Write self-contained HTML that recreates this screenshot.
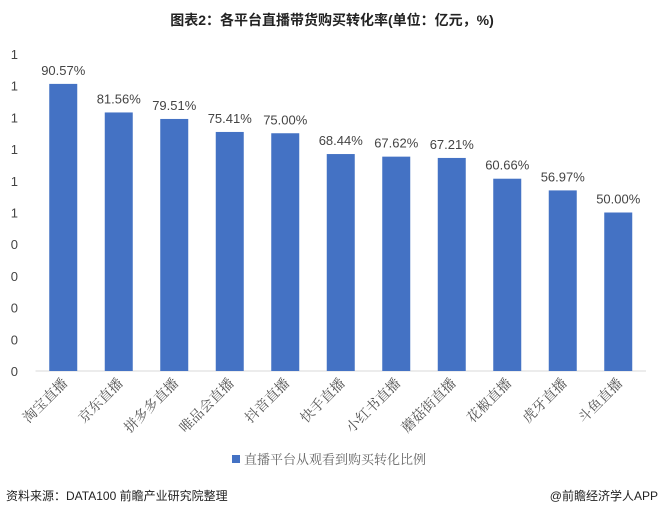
<!DOCTYPE html>
<html><head><meta charset="utf-8"><style>
body{margin:0;background:#fff;width:664px;height:516px;overflow:hidden;font-family:"Liberation Sans","Noto Sans CJK SC",sans-serif}
</style></head><body>
<svg width="664" height="516">
<text x="332" y="25" text-anchor="middle" font-size="14" font-weight="bold" fill="#222" font-family="Liberation Sans, Noto Sans CJK SC, sans-serif">图表2：各平台直播带货购买转化率(单位：亿元，%)</text>
<g id="plot"></g>
<rect x="232" y="455" width="8" height="8" fill="#4472c4"/>
<text x="244" y="464" font-size="13" fill="#666" font-family="Liberation Serif, Noto Serif CJK SC, serif">直播平台从观看到购买转化比例</text>
<text x="6" y="500" font-size="12" fill="#222">资料来源：DATA100 前瞻产业研究院整理</text>
<text x="658" y="500" text-anchor="end" font-size="12" fill="#222">@前瞻经济学人APP</text>
</svg>
<script>
const categories=["淘宝直播","京东直播","拼多多直播","唯品会直播","抖音直播","快手直播","小红书直播","蘑菇街直播","花椒直播","虎牙直播","斗鱼直播"];
const values=[90.57,81.56,79.51,75.41,75.00,68.44,67.62,67.21,60.66,56.97,50.00];
const valueLabels=["90.57%","81.56%","79.51%","75.41%","75.00%","68.44%","67.62%","67.21%","60.66%","56.97%","50.00%"];
const ticks=[0,10,20,30,40,50,60,70,80,90,100];
const tickLabels=["0","0","0","0","0","1","1","1","1","1","1"];
const NS="http://www.w3.org/2000/svg";
const g=document.getElementById('plot');
const x0=35.5,band=55.5,base=371,ppu=3.17,bw=28;
const y=v=>base-v*ppu;
const xc=i=>x0+band*(i+0.5);
function mk(t,a){const e=document.createElementNS(NS,t);for(const k in a)e.setAttribute(k,a[k]);g.appendChild(e);return e;}
ticks.forEach((t,i)=>{
 const e=mk('text',{x:18,y:y(t)+5,'text-anchor':'end','font-size':13,fill:'#444'});
 e.textContent=tickLabels[i];
 
 
});
const ax=mk('line',{x1:x0,x2:x0+band*categories.length,y1:base,y2:base,stroke:'#d9d9d9'});


values.forEach((v,i)=>{
 const r=mk('rect',{x:xc(i)-bw/2,y:y(v),width:bw,height:base-y(v),fill:'#4472c4'});
 
 
 const l=mk('text',{x:xc(i),y:y(v)-9,'text-anchor':'middle','font-size':13,fill:'#444'});
 l.textContent=valueLabels[i];
 
 
 const c=mk('text',{x:xc(i)+5,y:base+13,'text-anchor':'end','font-size':14,fill:'#555','font-family':'Liberation Serif, Noto Serif CJK SC, serif',transform:`rotate(-45 ${xc(i)+5} ${base+13})`});
 c.textContent=categories[i];
 
 
});
</script>
</body></html>
